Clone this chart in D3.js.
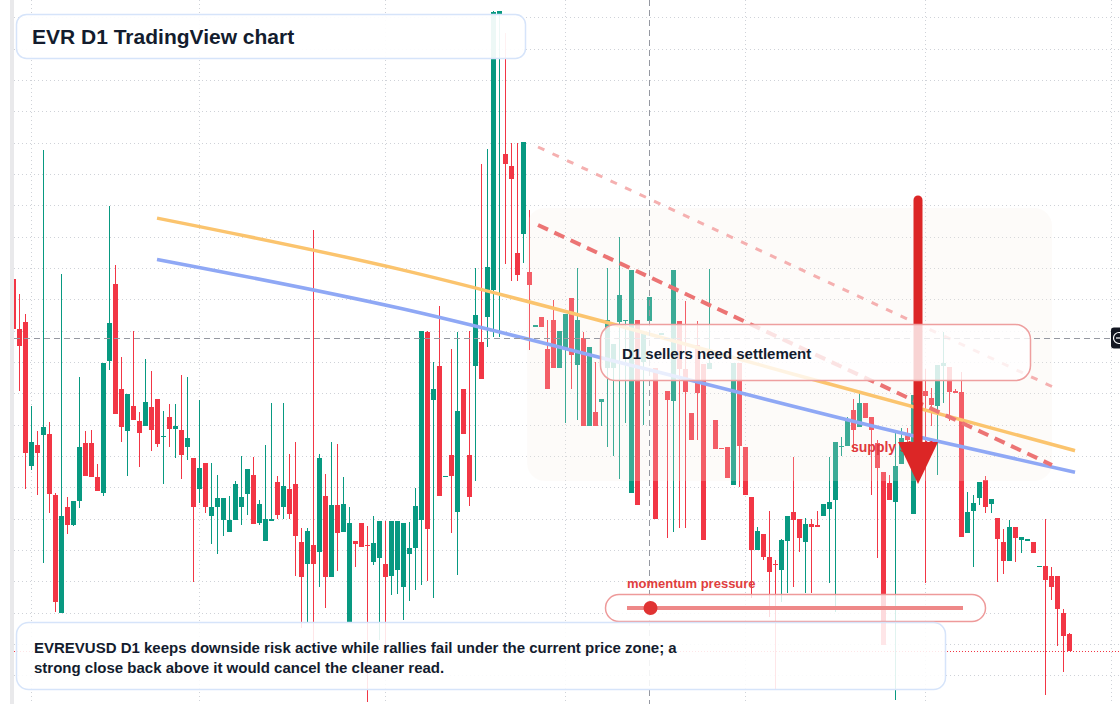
<!DOCTYPE html>
<html>
<head>
<meta charset="utf-8">
<script src="https://cdn.jsdelivr.net/npm/d3@7"></script>
<style>
  html, body { margin: 0; padding: 0; background: #ffffff; overflow: hidden; }
  svg { display: block; font-family: "Liberation Sans", Arial, sans-serif; }
</style>
</head>
<body>
<div id="chart"></div>
<script>
// daily candles, left to right
const OPEN = [
  44.09, 39.10, 39.79, 25.43, 27.50, 28.53, 28.60, 22.50, 10.69, 21.30,
  19.54, 21.92, 27.70, 27.70, 24.30, 22.74, 35.90, 43.61, 33.11, 28.94,
  31.39, 29.91, 29.42, 31.32, 32.11, 28.32, 30.32, 29.15, 29.01, 27.32,
  26.19, 23.09, 25.71, 20.44, 21.33, 19.96, 18.85, 19.99, 21.33, 22.64,
  24.50, 19.75, 17.92, 20.00, 23.81, 21.33, 23.09, 23.60, 17.82, 15.65,
  17.51, 16.79, 22.40, 14.34, 21.50, 18.85, 9.70, 17.89, 19.71, 17.52,
  15.82, 16.24, 15.62, 14.45, 15.01, 13.30, 16.63, 17.25, 20.02, 38.85,
  32.00, 35.43, 24.36, 26.54, 20.79, 33.15, 26.54, 35.39, 37.83, 40.28,
  43.05, 70.65, 56.63, 55.41, 46.72, 48.56, 44.80, 39.43, 40.30, 37.10,
  40.00, 35.23, 37.20, 42.20, 35.50, 38.20, 29.43, 30.80, 31.83, 35.23,
  35.23, 39.83, 39.93, 22.73, 40.00, 35.83, 39.93, 35.23, 38.65, 32.90,
  31.93, 39.90, 35.10, 30.70, 37.50, 35.60, 35.13, 30.00, 27.23, 27.30,
  23.53, 35.67, 27.30, 22.30, 17.00, 18.60, 16.30, 15.65, 15.00, 17.90,
  20.80, 20.07, 17.83, 19.60, 19.48, 20.43, 21.10, 22.03, 27.40, 27.43,
  31.00, 29.33, 31.67, 30.27, 27.67, 24.83, 23.70, 21.83, 25.57, 28.70,
  20.57, 32.50, 32.93, 32.17, 31.40, 35.40, 35.30, 32.90, 32.80, 18.73,
  20.90, 22.20, 24.00, 21.60, 20.20, 17.80, 15.93, 19.30, 18.00, 18.04,
  17.80, 15.37, 15.40, 14.40, 14.40, 10.70, 8.60
];
const HIGH = [
  44.10, 42.61, 40.58, 31.39, 28.87, 57.01, 29.80, 22.74, 44.61, 22.30,
  21.92, 34.35, 28.94, 29.01, 25.60, 35.69, 51.39, 45.51, 36.35, 32.59,
  38.89, 30.80, 36.10, 34.90, 32.11, 30.90, 31.59, 31.59, 34.49, 34.31,
  26.19, 32.01, 25.71, 25.71, 24.50, 22.19, 22.40, 23.91, 26.39, 25.12,
  26.29, 21.99, 27.50, 31.70, 24.40, 31.70, 26.60, 27.81, 19.16, 19.16,
  48.98, 26.60, 24.60, 27.81, 27.63, 24.29, 21.30, 17.90, 19.71, 19.40,
  20.40, 19.92, 19.92, 19.92, 19.86, 19.73, 19.77, 23.16, 38.94, 38.94,
  35.76, 41.42, 24.42, 37.06, 38.85, 33.15, 38.94, 45.21, 55.61, 57.12,
  70.90, 70.90, 68.74, 57.73, 57.73, 57.81, 51.00, 39.47, 40.30, 40.00,
  42.00, 38.90, 40.60, 42.20, 45.17, 38.83, 37.30, 35.83, 32.10, 45.17,
  37.60, 48.27, 40.03, 45.00, 40.00, 38.67, 42.27, 35.23, 38.70, 32.90,
  45.00, 39.90, 41.93, 30.70, 39.90, 35.60, 45.10, 30.00, 27.23, 27.30,
  35.67, 35.67, 27.30, 22.30, 19.33, 18.60, 20.90, 16.00, 18.10, 20.40,
  26.33, 20.07, 20.17, 20.07, 20.90, 21.60, 26.33, 27.77, 28.33, 30.27,
  32.07, 32.67, 31.67, 30.27, 28.00, 24.83, 24.50, 28.77, 29.17, 29.20,
  32.50, 33.50, 35.07, 33.17, 35.47, 38.83, 35.30, 33.10, 34.80, 22.80,
  22.50, 23.80, 24.40, 22.10, 20.20, 19.13, 20.00, 19.30, 18.30, 18.10,
  17.80, 15.43, 20.10, 15.33, 14.40, 11.10, 8.67
];
const LOW = [
  39.10, 32.90, 23.09, 24.98, 22.50, 15.75, 20.75, 10.80, 10.69, 18.61,
  19.40, 21.20, 24.40, 24.30, 22.92, 22.40, 34.97, 30.60, 27.81, 24.40,
  30.04, 25.33, 29.42, 26.94, 27.26, 23.64, 27.32, 26.22, 24.12, 26.05,
  13.79, 21.75, 20.75, 17.65, 16.65, 18.44, 18.85, 19.99, 19.54, 20.50,
  19.64, 19.54, 17.92, 20.00, 20.06, 20.06, 20.06, 14.45, 9.20, 9.80,
  7.50, 13.34, 11.24, 14.34, 14.93, 18.85, 9.70, 15.34, 17.34, 1.80,
  15.50, 8.00, 7.50, 12.52, 12.60, 10.00, 11.95, 12.96, 13.50, 13.90,
  12.19, 22.38, 24.36, 18.71, 14.51, 28.58, 21.36, 23.89, 34.08, 37.26,
  38.32, 38.32, 45.58, 43.87, 43.87, 45.67, 37.00, 39.43, 39.33, 33.10,
  35.23, 35.23, 29.73, 33.10, 30.00, 29.43, 29.43, 29.43, 29.43, 27.33,
  26.40, 24.07, 29.73, 22.73, 21.50, 29.50, 39.93, 20.13, 38.65, 18.23,
  18.83, 19.23, 19.23, 28.00, 28.00, 18.00, 35.13, 27.13, 27.10, 24.20,
  23.53, 23.33, 22.47, 12.20, 17.00, 16.00, 10.30, 3.00, 11.80, 12.70,
  13.27, 16.83, 12.70, 12.70, 19.38, 20.43, 13.73, 10.83, 26.40, 27.43,
  26.83, 29.33, 30.23, 22.50, 16.23, 7.50, 22.00, 2.00, 25.57, 27.50,
  20.57, 29.00, 13.73, 29.40, 24.50, 31.73, 29.93, 32.73, 18.33, 18.73,
  15.33, 21.50, 20.73, 20.73, 13.83, 14.60, 15.93, 15.83, 16.73, 18.04,
  16.73, 15.37, 2.50, 12.00, 7.43, 4.83, 6.93
];
const CLOSE = [
  39.10, 37.45, 26.70, 27.81, 26.70, 29.29, 22.64, 11.83, 20.40, 19.54,
  21.92, 27.29, 24.40, 24.30, 22.92, 35.69, 39.69, 30.60, 29.29, 32.59,
  30.04, 28.74, 31.80, 29.05, 27.63, 28.44, 29.15, 29.39, 26.53, 28.22,
  21.33, 25.19, 21.33, 21.30, 22.19, 22.19, 19.99, 23.60, 22.30, 25.12,
  19.64, 21.61, 20.09, 20.06, 20.54, 23.40, 20.64, 18.44, 14.34, 18.92,
  15.65, 26.19, 14.34, 21.50, 18.75, 21.61, 19.71, 17.65, 17.34, 17.44,
  17.72, 19.92, 14.34, 19.92, 19.86, 19.73, 17.25, 21.36, 38.94, 19.12,
  33.15, 22.38, 24.42, 24.38, 30.86, 28.58, 22.30, 40.53, 34.08, 45.34,
  70.80, 70.90, 55.61, 54.14, 44.48, 57.81, 43.53, 39.47, 39.33, 33.10,
  35.23, 38.90, 40.60, 36.53, 40.00, 29.43, 37.30, 29.43, 32.10, 40.00,
  37.60, 42.50, 40.03, 45.00, 21.50, 38.67, 42.27, 20.13, 38.70, 32.00,
  45.00, 35.07, 32.83, 28.00, 32.73, 18.00, 35.67, 27.13, 27.10, 24.20,
  35.67, 27.40, 22.47, 17.00, 18.90, 16.27, 14.80, 15.55, 18.00, 20.40,
  20.00, 18.23, 19.60, 19.33, 19.38, 21.60, 21.80, 27.77, 27.45, 29.90,
  29.00, 31.67, 30.23, 29.00, 25.23, 7.50, 22.00, 25.40, 28.23, 28.00,
  32.50, 30.00, 32.40, 31.50, 35.47, 35.73, 32.80, 32.73, 18.33, 20.80,
  21.70, 23.80, 21.33, 22.10, 18.10, 15.93, 19.30, 18.23, 18.30, 18.10,
  16.73, 15.43, 14.00, 13.27, 11.13, 8.43, 6.93
];

// price grid levels and month boundaries (candle index)
const GRID_PRICES = [70.26, 67.13, 63.99, 60.86, 57.73, 54.59, 51.46, 48.33, 45.19, 42.06, 38.93,
  35.79, 32.66, 29.53, 26.39, 23.26, 20.13, 16.99, 13.86, 10.73, 7.59, 4.46];
const MONTH_IDX = [3, 31, 62, 92, 122, 152, 183];

// trend curves, [candle index, price]
const ORANGE_CURVE = [[23.92, 50.19], [64.42, 45.06], [99.42, 39.67], [129.42, 34.67], [176.92, 26.93]];
const BLUE_CURVE = [[23.92, 46.06], [64.42, 41.17], [106.08, 35.00], [149.42, 28.50], [176.92, 24.77]];
// dashed descending rails
const UPPER_RAIL = [[87.42, 57.30], [173.08, 33.35]];
const LOWER_RAIL = [[87.42, 49.50], [173.08, 25.50]];
// shaded supply area: index from/to, price top/bottom
const ZONE_IDX = [85.6, 173.1];
const ZONE_PRICE = [51.2, 23.9];
// crosshair (candle index, price), arrow (index, from price, to price)
const CROSS = [106, 38.2];
const ARROW = [150.75, 52.0, 23.6];
const MOMENTUM = 0.07;

const TITLE = "EVR D1 TradingView chart";
const CALLOUT = "D1 sellers need settlement";
const NOTE = ["EVREVUSD D1 keeps downside risk active while rallies fail under the current price zone; a",
  "strong close back above it would cancel the cleaner read."];

const W = 1120, H = 704;
const UP = "#089981", DOWN = "#f23645";

let svg = d3.select("#chart").append("svg")
  .attr("width", W).attr("height", H);

let x = d3.scaleLinear().domain([0, OPEN.length - 1]).range([13.5, 1069.5]);
let y = d3.scaleLinear().domain([1.6, 72]).range([H, 0]);

// grid
let grid = svg.append("g").attr("stroke", "#cfd2d8").attr("stroke-dasharray", "1,3");
grid.selectAll(".hg").data(GRID_PRICES).enter().append("line")
  .attr("x1", 14).attr("x2", W)
  .attr("y1", d => Math.round(y(d)) + 0.5).attr("y2", d => Math.round(y(d)) + 0.5);
grid.selectAll(".vg").data(MONTH_IDX).enter().append("line")
  .attr("x1", d => x(d)).attr("x2", d => x(d))
  .attr("y1", 0).attr("y2", H);

// candles
let candles = OPEN.map((o, i) => ({ i: i, o: o, h: HIGH[i], l: LOW[i], c: CLOSE[i] }));
let cg = svg.append("g").attr("shape-rendering", "crispEdges");
cg.selectAll(".wick").data(candles).enter().append("line")
  .attr("x1", d => x(d.i)).attr("x2", d => x(d.i))
  .attr("y1", d => y(d.h)).attr("y2", d => y(d.l))
  .attr("stroke", d => d.c >= d.o ? UP : DOWN);
cg.selectAll(".body").data(candles).enter().append("rect")
  .attr("x", d => x(d.i) - 2.5)
  .attr("y", d => y(Math.max(d.o, d.c)))
  .attr("width", 5)
  .attr("height", d => Math.max(1.5, Math.abs(y(d.o) - y(d.c))))
  .attr("fill", d => d.c >= d.o ? UP : DOWN);

// supply area
svg.append("rect")
  .attr("x", x(ZONE_IDX[0])).attr("y", y(ZONE_PRICE[0]))
  .attr("width", x(ZONE_IDX[1]) - x(ZONE_IDX[0]))
  .attr("height", y(ZONE_PRICE[1]) - y(ZONE_PRICE[0]))
  .attr("rx", 18)
  .attr("fill", "#f7ebe2").attr("fill-opacity", 0.22);

// trend curves
let curve = d3.line().x(d => x(d[0])).y(d => y(d[1])).curve(d3.curveMonotoneX);
svg.append("path").attr("d", curve(ORANGE_CURVE))
  .attr("fill", "none").attr("stroke", "#fbc46e").attr("stroke-width", 3.5);
svg.append("path").attr("d", curve(BLUE_CURVE))
  .attr("fill", "none").attr("stroke", "#8fa8f5").attr("stroke-width", 3.5);

// channel rails
let straight = d3.line().x(d => x(d[0])).y(d => y(d[1]));
svg.append("path").attr("d", straight(UPPER_RAIL))
  .attr("stroke", "#f5b0b0").attr("stroke-width", 3).attr("stroke-dasharray", "7,9");
svg.append("path").attr("d", straight(LOWER_RAIL))
  .attr("stroke", "#ec7474").attr("stroke-width", 4).attr("stroke-dasharray", "11,7");

// crosshair
svg.append("line")
  .attr("x1", Math.floor(x(CROSS[0])) + 0.5).attr("x2", Math.floor(x(CROSS[0])) + 0.5)
  .attr("y1", 0).attr("y2", H)
  .attr("stroke", "#9598a1").attr("stroke-dasharray", "6,4");
svg.append("line")
  .attr("x1", 14).attr("x2", 1111)
  .attr("y1", Math.round(y(CROSS[1])) + 0.5).attr("y2", Math.round(y(CROSS[1])) + 0.5)
  .attr("stroke", "#9598a1").attr("stroke-dasharray", "6,4");

// last price line
let last = CLOSE[CLOSE.length - 1];
svg.append("line")
  .attr("x1", 14).attr("x2", W)
  .attr("y1", Math.round(y(last)) + 0.5).attr("y2", Math.round(y(last)) + 0.5)
  .attr("stroke", DOWN).attr("stroke-dasharray", "1,2");

// supply label + arrow
svg.append("text").attr("x", 851).attr("y", 452)
  .attr("font-size", 14).attr("font-weight", "bold").attr("fill", "#e0393e")
  .text("supply shelf");
let ax = x(ARROW[0]), ay0 = y(ARROW[1]), ay1 = y(ARROW[2]);
svg.append("line")
  .attr("x1", ax).attr("x2", ax).attr("y1", ay0).attr("y2", ay1 - 38)
  .attr("stroke", "#dc2626").attr("stroke-width", 9).attr("stroke-linecap", "round");
svg.append("path")
  .attr("d", "M" + (ax - 20) + "," + (ay1 - 42) + "L" + (ax + 20) + "," + (ay1 - 42) + "L" + ax + "," + ay1 + "Z")
  .attr("fill", "#dc2626");

// callout box
svg.append("rect")
  .attr("x", 600.5).attr("y", 324.5).attr("width", 430).attr("height", 56).attr("rx", 15)
  .attr("fill", "#ffffff").attr("fill-opacity", 0.8)
  .attr("stroke", "#ee9f9f").attr("stroke-width", 1.5);
svg.append("text").attr("x", 622).attr("y", 359)
  .attr("font-size", 15).attr("font-weight", "bold").attr("fill", "#131c2e")
  .text(CALLOUT);

// momentum gauge
let mx = d3.scaleLinear().domain([0, 1]).range([627, 963]);
svg.append("text").attr("x", 627).attr("y", 588)
  .attr("font-size", 13).attr("font-weight", "bold").attr("fill", "#e03e3e")
  .text("momentum pressure");
svg.append("rect")
  .attr("x", 605.5).attr("y", 594.5).attr("width", 380).attr("height", 27).attr("rx", 13.5)
  .attr("fill", "#ffffff").attr("fill-opacity", 0.82)
  .attr("stroke", "#ee9a9a").attr("stroke-width", 1.5);
svg.append("line")
  .attr("x1", mx(0)).attr("x2", mx(1)).attr("y1", 608).attr("y2", 608)
  .attr("stroke", "#ee8888").attr("stroke-width", 4);
svg.append("circle").attr("cx", mx(MOMENTUM)).attr("cy", 608).attr("r", 7)
  .attr("fill", "#e03333");

// bottom note
svg.append("rect")
  .attr("x", 16.5).attr("y", 622.5).attr("width", 929).attr("height", 67).attr("rx", 12)
  .attr("fill", "#ffffff").attr("fill-opacity", 0.88)
  .attr("stroke", "#d6e4fa").attr("stroke-width", 1.5);
svg.selectAll(".note").data(NOTE).enter().append("text")
  .attr("x", 34).attr("y", (d, i) => 653 + i * 20)
  .attr("font-size", 15).attr("font-weight", "bold").attr("fill", "#131c2e")
  .text(d => d);

// title
svg.append("rect")
  .attr("x", 16.5).attr("y", 14.5).attr("width", 509).attr("height", 44).attr("rx", 10)
  .attr("fill", "#ffffff").attr("fill-opacity", 0.93)
  .attr("stroke", "#d6e4fa").attr("stroke-width", 1.5);
svg.append("text").attr("x", 32).attr("y", 44)
  .attr("font-size", 21).attr("font-weight", "bold").attr("fill", "#131c2e")
  .text(TITLE);

// left edge strip
svg.append("rect").attr("x", 0).attr("y", 0).attr("width", 10).attr("height", H).attr("fill", "#ffffff");
svg.append("rect").attr("x", 10).attr("y", 0).attr("width", 4).attr("height", H).attr("fill", "#e9e9eb");

// crosshair button on the right edge
let cy = Math.round(y(CROSS[1]));
svg.append("rect").attr("x", 1111).attr("y", cy - 10.5).attr("width", 16).attr("height", 21).attr("rx", 3)
  .attr("fill", "#131722");
svg.append("circle").attr("cx", 1119).attr("cy", cy).attr("r", 5.5)
  .attr("fill", "none").attr("stroke", "#ffffff").attr("stroke-width", 1.2);
svg.append("line").attr("x1", 1116).attr("x2", 1122).attr("y1", cy).attr("y2", cy)
  .attr("stroke", "#ffffff").attr("stroke-width", 1.2);
</script>
</body>
</html>
